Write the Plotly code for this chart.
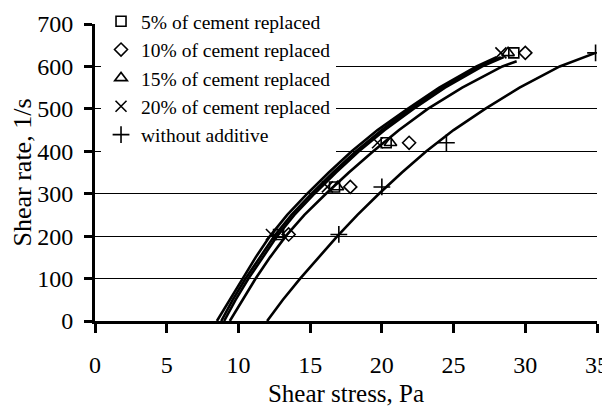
import plotly.graph_objects as go

# ---- data ----
# flow curves (shear stress Pa, shear rate 1/s)
rate_curve = [0, 50, 100, 150, 200, 250, 300, 350, 400, 450, 500, 550, 600, 622]
stress_20 = [8.5, 9.4, 10.3, 11.2, 12.2, 13.4, 14.8, 16.3, 17.9, 19.7, 21.8, 24.0, 26.6, 28.0]
stress_5 = [8.8, 9.6, 10.5, 11.5, 12.5, 13.7, 15.1, 16.6, 18.2, 20.0, 22.0, 24.2, 26.8, 28.3]
stress_15 = [9.0, 9.8, 10.7, 11.7, 12.7, 13.9, 15.3, 16.8, 18.4, 20.2, 22.2, 24.4, 27.0, 28.5]
rate_curve_10 = [0, 50, 100, 150, 200, 250, 300, 350, 400, 450, 500, 550, 600, 612]
stress_10 = [9.4, 10.3, 11.2, 12.2, 13.3, 14.6, 16.1, 17.7, 19.4, 21.2, 23.2, 25.6, 28.4, 29.4]
rate_curve_0 = [0, 50, 100, 150, 200, 250, 300, 350, 400, 450, 500, 550, 600, 632]
stress_0 = [12.0, 13.1, 14.3, 15.6, 16.9, 18.3, 19.8, 21.4, 23.1, 25.0, 27.2, 29.6, 32.4, 34.9]

# measured points
rate_pts = [204, 316, 420, 632]
pts_5 = [12.8, 16.7, 20.3, 29.2]
pts_10 = [13.5, 17.8, 21.9, 30.0]
pts_15 = [12.9, 16.9, 20.6, 28.8]
pts_20 = [12.3, 16.2, 19.7, 28.3]
pts_0 = [17.0, 20.0, 24.5, 34.9]

names = ["5% of cement replaced", "10% of cement replaced", "15% of cement replaced",
         "20% of cement replaced", "without additive"]
symbols = ["square-open", "diamond-open", "triangle-up-open", "x-thin-open", "cross-thin-open"]

FONT = "Liberation Serif, Times New Roman, serif"

fig = go.Figure()

curves = [(stress_5, rate_curve), (stress_10, rate_curve_10), (stress_15, rate_curve),
          (stress_20, rate_curve), (stress_0, rate_curve_0)]
for xs, ys in curves:
    fig.add_trace(go.Scatter(x=xs, y=ys, mode="lines", showlegend=False,
                             line=dict(color="black", width=2.6), hoverinfo="skip"))

points = [pts_5, pts_10, pts_15, pts_20, pts_0]
sizes = [10, 10, 11, 11, 12]
for xs, nm, sym, sz in zip(points, names, symbols, sizes):
    fig.add_trace(go.Scatter(x=xs, y=rate_pts, mode="markers", name=nm,
                             marker=dict(symbol=sym, size=sz, color="black",
                                         line=dict(color="black", width=1.6))))

# page body has an 8px margin, so the figure is sized to fit the 610x407 window
fig.update_layout(
    width=602, height=399,
    margin=dict(l=87, r=13, t=16, b=86, autoexpand=False),
    paper_bgcolor="white", plot_bgcolor="white",
    font=dict(family=FONT, size=24, color="black"),
    legend=dict(x=0.012, y=1.074, xref="paper", yref="paper",
                xanchor="left", yanchor="top",
                bgcolor="white", borderwidth=0,
                font=dict(family=FONT, size=19.5, color="black"),
                tracegroupgap=0, itemwidth=30),
    xaxis=dict(range=[0, 35], dtick=5, tick0=0, showgrid=False, zeroline=False,
               automargin=False,
               showline=True, linecolor="black", linewidth=3,
               ticks="outside", ticklen=9, tickwidth=2.5, tickcolor="black",
               tickfont=dict(size=24), ticklabelstandoff=11,
               title=dict(text="Shear stress, Pa", font=dict(size=25), standoff=11)),
    yaxis=dict(range=[0, 700], dtick=100, tick0=0, showgrid=True, gridcolor="black",
               gridwidth=1, zeroline=False, automargin=False,
               showline=True, linecolor="black", linewidth=3,
               ticks="outside", ticklen=8, tickwidth=2.5, tickcolor="black",
               tickfont=dict(size=24), ticklabelstandoff=6,
               title=dict(text="Shear rate, 1/s", font=dict(size=26), standoff=8)),
)

fig.write_html("out.html")
